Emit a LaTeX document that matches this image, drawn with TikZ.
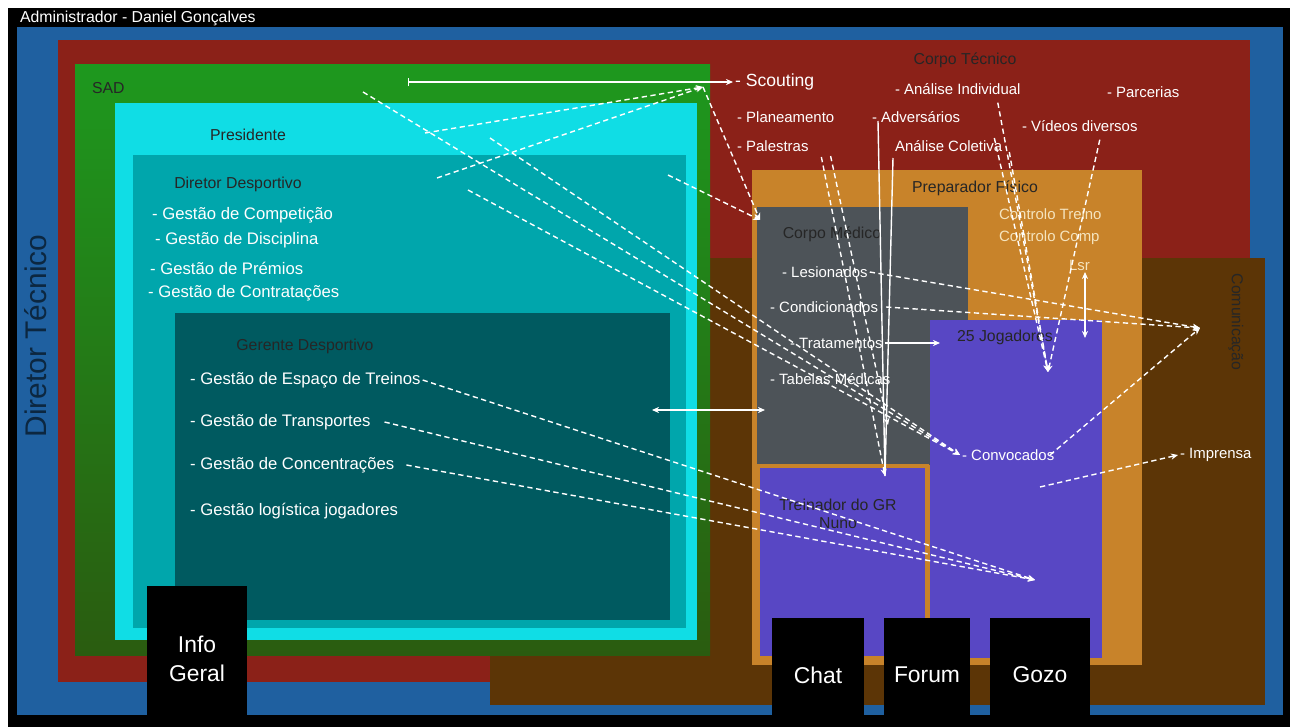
\documentclass[tikz,border=0pt]{standalone}
\usepackage{fontspec}
\setmainfont{Liberation Sans}
\usepackage{xcolor}
\usepackage{tikz}
\usetikzlibrary{arrows.meta, positioning, calc}
\definecolor{frameblue}{RGB}{31, 96, 160}
\definecolor{tecred}{RGB}{139, 33, 24}
\definecolor{sadgreen}{RGB}{30, 152, 30}
\definecolor{sadgreendk}{RGB}{42, 92, 16}
\definecolor{prescyan}{RGB}{16, 221, 229}
\definecolor{dirteal}{RGB}{0, 166, 172}
\definecolor{gerteal}{RGB}{0, 90, 96}
\definecolor{combrown}{RGB}{92, 53, 6}
\definecolor{prepgold}{RGB}{200, 131, 42}
\definecolor{medgray}{RGB}{77, 83, 88}
\definecolor{jogpurple}{RGB}{88, 71, 196}
\definecolor{creamtext}{RGB}{245, 228, 190}

\begin{document}
\begin{tikzpicture}[
    x=0.2mm, y=-0.2mm,
    item/.style={text=white, font=\fontsize{8.5}{10}\selectfont, anchor=west, inner sep=1pt},
    bigitem/.style={item, font=\fontsize{9.5}{11}\selectfont},
    head/.style={text=black!85, font=\fontsize{9}{10}\selectfont, inner sep=1pt},
    tab/.style={text=white, font=\fontsize{13}{15.5}\selectfont, align=center, inner sep=0pt},
    link/.style={white, line width=0.8pt, dash pattern=on 3pt off 2pt, -{Stealth[length=4pt, width=3.5pt]}},
    wire/.style={white, line width=0.8pt, -{Stealth[length=4pt, width=3.5pt]}}
]
    \useasboundingbox (0,0) rectangle (1290,727);
    \fill[white] (0,0) rectangle (1290,727);
    \fill[black] (8,8) rectangle (1290,727);

    % areas
    \fill[frameblue] (17,27) rectangle (1283,715);
    \fill[tecred] (58,40) rectangle (1250,682);
    \fill[combrown] (490,258) rectangle (1265,705);
    \shade[top color=sadgreen, bottom color=sadgreendk] (75,65) rectangle (710,655);
    \fill[prescyan] (115,103) rectangle (697,640);
    \fill[dirteal] (133,155) rectangle (686,628);
    \fill[gerteal] (175,313) rectangle (670,620);
    \fill[prepgold] (752,170) rectangle (1142,665);
    \fill[medgray] (757,207) rectangle (968,465);
    \fill[jogpurple] (930,320) rectangle (1102,658);
    \filldraw[fill=jogpurple, draw=prepgold, line width=2pt] (758,466) rectangle (927,658);

    % black tabs
    \fill[black] (147,586) rectangle (247,720);
    \fill[black] (772,618) rectangle (864,720);
    \fill[black] (884,618) rectangle (970,720);
    \fill[black] (990,618) rectangle (1090,720);
    \node[tab] (info) at (197,659) {Info\\[1pt]Geral};
    \node[tab] (chat) at (818,675) {Chat};
    \node[tab] (forum) at (927,675) {Forum};
    \node[tab] (gozo) at (1040,675) {Gozo};

    % titles
    \node[item, font=\fontsize{9}{10}\selectfont] (admin) at (18,18) {Administrador - Daniel Gonçalves};
    \node[text=black!60!frameblue, font=\fontsize{17}{19}\selectfont, rotate=90] (dirtec) at (36,336) {Diretor Técnico};
    \node[head, rotate=-90] (comunic) at (1236,322) {Comunicação};
    \node[head] (tecnico) at (965,60) {Corpo Técnico};
    \node[head, anchor=west] (sad) at (90,88) {SAD};
    \node[head] (pres) at (248,135) {Presidente};
    \node[head] (dirdesp) at (238,184) {Diretor Desportivo};
    \node[head] (gerente) at (305,346) {Gerente Desportivo};
    \node[head] (prep) at (975,188) {Preparador Físico};
    \node[head] (medico) at (832,234) {Corpo Médico};
    \node[head] (jogadores) at (1005,337) {25 Jogadores};
    \node[head, align=center, font=\fontsize{9}{10.5}\selectfont] (treinador) at (838,514) {Treinador do GR\\Nuno};

    % Diretor Desportivo
    \node[bigitem] (competicao) at (150,215) {- Gestão de Competição};
    \node[bigitem] (disciplina) at (153,240) {- Gestão de Disciplina};
    \node[bigitem] (premios) at (148,268) {- Gestão de Prémios};
    \node[bigitem] (contratos) at (146,293) {- Gestão de Contratações};
    % Gerente Desportivo
    \node[bigitem] (espaco) at (188,380) {- Gestão de Espaço de Treinos};
    \node[bigitem] (transp) at (188,422) {- Gestão de Transportes};
    \node[bigitem] (concent) at (188,465) {- Gestão de Concentrações};
    \node[bigitem] (logist) at (188,511) {- Gestão logística jogadores};
    % Corpo Tecnico
    \node[item, font=\fontsize{10}{11}\selectfont] (scout) at (733,82) {- Scouting};
    \node[item] (individual) at (893,89) {- Análise Individual};
    \node[item] (parcerias) at (1105,92) {- Parcerias};
    \node[item] (planeam) at (735,117) {- Planeamento};
    \node[item] (advers) at (870,117) {- Adversários};
    \node[item] (videos) at (1020,126) {- Vídeos diversos};
    \node[item] (palestras) at (735,146) {- Palestras};
    \node[item] (coletiva) at (893,146) {Análise Coletiva};
    % Preparador Fisico
    \node[item, text=creamtext] (ctreino) at (997,214) {Controlo Treino};
    \node[item, text=creamtext] (ccomp) at (997,238) {Controlo Comp};
    \node[item, text=creamtext] (lsr) at (1067,265) {Lsr};
    % Corpo Medico
    \node[item] (lesion) at (780,272) {- Lesionados};
    \node[item] (condic) at (768,307) {- Condicionados};
    \node[item] (tratam) at (788,343) {- Tratamentos};
    \node[item] (tabelas) at (768,379) {- Tabelas Médicas};
    % jogadores
    \node[item] (convoc) at (960,455) {- Convocados};
    \node[item] (imprensa) at (1178,455) {- Imprensa};

    % free ends
    \coordinate (sadpt) at (408,82);
    \coordinate (prespt) at (425,133);
    \coordinate (dirpt) at (437,178);
    \coordinate (sadlow) at (363,92);
    \coordinate (prespt2) at (490,138);
    \coordinate (dirpt2) at (468,190);
    \coordinate (dirpt3) at (668,175);
    \coordinate (scoutin) at (703,87);
    \coordinate (medin) at (760,220);
    \coordinate (gerin) at (1035,580);
    \coordinate (gerout) at (652,410);
    \coordinate (medout) at (765,410);
    \coordinate (jogin) at (940,343);
    \coordinate (commpt) at (1200,328);
    \coordinate (lsrpt) at (1085,272);
    \coordinate (joglsr) at (1085,338);
    \coordinate (jogpt) at (1048,372);
    \coordinate (grpt) at (885,476);
    \coordinate (imprpt) at (1040,487);
    \coordinate (convout) at (1050,455);

    % connectors
    \draw[wire, {Bar[width=5pt]}-{Stealth[length=4pt, width=3.5pt]}] (sadpt) -- (scout.west);
    \draw[link] (prespt) -- (scoutin);
    \draw[link] (dirpt) -- (scoutin);
    \draw[link] (sadlow) -- (convoc.west);
    \draw[link] (prespt2) -- (convoc.west);
    \draw[link] (dirpt2) -- (convoc.west);
    \draw[link] (dirpt3) -- (medin);
    \draw[link] (scoutin) -- (medin);
    \draw[link] (espaco.east) -- (gerin);
    \draw[link] ($(transp.east)+(12,0)$) -- (gerin);
    \draw[link] ($(concent.east)+(10,0)$) -- (gerin);
    \draw[wire, {Stealth[length=4pt, width=3.5pt]}-{Stealth[length=4pt, width=3.5pt]}] (gerout) -- (medout);
    \draw[wire] (tratam.east) -- (jogin);
    \draw[link] (lesion.east) -- (commpt);
    \draw[link] ($(condic.east)+(6,0)$) -- (commpt);
    \draw[link] (convout) -- (commpt);
    \draw[wire, {Stealth[length=4pt, width=3.5pt]}-{Stealth[length=4pt, width=3.5pt]}] (lsrpt) -- (joglsr);
    \draw[link] (imprpt) -- (imprensa.west);
    \draw[wire, -] ($(advers.west)+(8,4)$) -- (grpt);
    \draw[wire, -] ($(coletiva.west)+(0,12)$) -- (grpt);
    \draw[link] ($(individual.south)+(40,6)$) -- (jogpt);
    \draw[link] ($(coletiva.east)+(-10,-8)$) -- (jogpt);
    \draw[link] ($(coletiva.east)+(5,6)$) -- (jogpt);
    \draw[link] ($(videos.south)+(20,6)$) -- (jogpt);
    \draw[link] ($(planeam.east)+(-15,40)$) -- (grpt);
    \draw[link] ($(palestras.east)+(20,10)$) -- ($(convoc.west)+(-72,-30)$);
\end{tikzpicture}
\end{document}
